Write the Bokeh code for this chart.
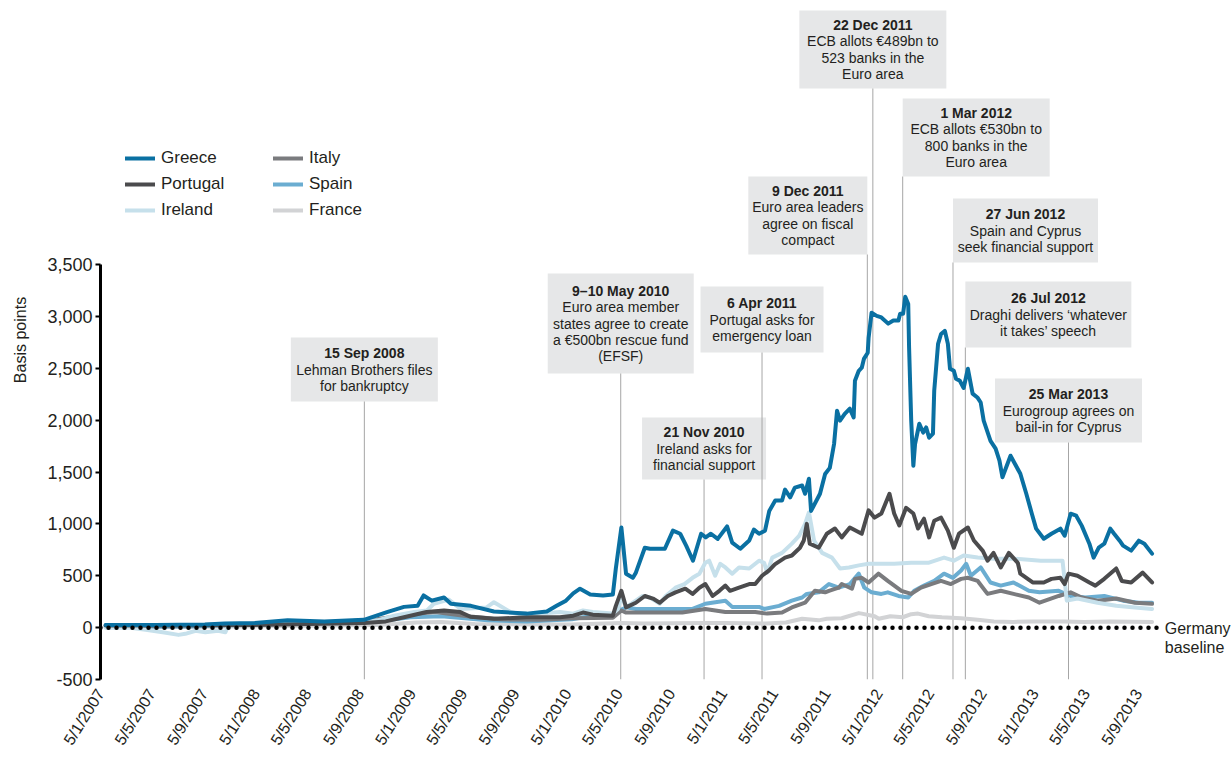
import math
import pandas as pd
from bokeh.plotting import figure
from bokeh.models import Range1d, FixedTicker, NumeralTickFormatter, Legend, LegendItem
from bokeh.core.properties import value
from bokeh.embed import file_html
from bokeh.resources import INLINE

# ---------------- data ----------------
greece_dates = [
    "2007-01-17", "2007-05-13", "2007-09-07", "2007-10-23", "2008-01-02", "2008-03-19", "2008-06-13", "2008-09-14", "2008-11-07", "2008-12-17",
    "2009-01-18", "2009-02-01", "2009-02-20", "2009-03-21", "2009-04-06", "2009-05-23", "2009-07-16", "2009-10-01", "2009-11-17", "2009-12-10",
    "2010-01-01", "2010-01-18", "2010-02-03", "2010-02-27", "2010-03-29", "2010-04-21", "2010-04-28", "2010-05-11", "2010-05-22", "2010-06-07",
    "2010-06-14", "2010-07-05", "2010-07-17", "2010-08-21", "2010-09-09", "2010-09-26", "2010-10-10", "2010-10-26", "2010-11-14", "2010-11-25",
    "2010-12-07", "2010-12-23", "2011-01-14", "2011-01-26", "2011-02-14", "2011-03-07", "2011-03-18", "2011-03-30", "2011-04-13", "2011-04-23",
    "2011-04-30", "2011-05-07", "2011-05-23", "2011-05-30", "2011-06-11", "2011-06-22", "2011-07-09", "2011-07-16", "2011-07-25", "2011-07-30",
    "2011-08-20", "2011-09-01", "2011-09-12", "2011-09-22", "2011-09-29", "2011-10-06", "2011-10-17", "2011-10-29", "2011-11-07", "2011-11-10",
    "2011-11-19", "2011-11-26", "2011-12-01", "2011-12-10", "2011-12-12", "2011-12-19", "2011-12-31", "2012-01-11", "2012-01-27", "2012-02-08",
    "2012-02-20", "2012-02-24", "2012-03-02", "2012-03-07", "2012-03-14", "2012-03-16", "2012-03-21", "2012-03-26", "2012-03-30", "2012-04-09",
    "2012-04-18", "2012-04-25", "2012-05-02", "2012-05-11", "2012-05-14", "2012-05-23", "2012-05-30", "2012-06-08", "2012-06-15", "2012-06-20",
    "2012-06-29", "2012-07-04", "2012-07-13", "2012-07-22", "2012-08-01", "2012-08-12", "2012-08-24", "2012-08-31", "2012-09-07", "2012-09-23",
    "2012-10-05", "2012-10-14", "2012-10-21", "2012-11-09", "2012-12-02", "2012-12-16", "2012-12-29", "2013-01-08", "2013-01-26", "2013-02-13",
    "2013-03-06", "2013-03-16", "2013-03-30", "2013-04-12", "2013-04-25", "2013-05-13", "2013-05-23", "2013-06-04", "2013-06-17", "2013-07-01",
    "2013-07-10", "2013-07-23", "2013-07-31", "2013-08-19", "2013-09-06", "2013-09-19", "2013-10-07"]
greece_values = [
    25, 25, 30, 40, 45, 70, 60, 75, 150, 200,
    210, 310, 260, 290, 230, 210, 155, 135, 155, 210,
    260, 330, 375, 320, 310, 320, 570, 965, 520, 480,
    530, 770, 760, 760, 935, 905, 790, 645, 905, 870,
    905, 855, 975, 820, 760, 840, 945, 905, 935, 1125,
    1175, 1225, 1225, 1330, 1255, 1350, 1370, 1290, 1435, 1125,
    1290, 1480, 1540, 1770, 2090, 1995, 2060, 2110, 2025, 2380,
    2475, 2505, 2590, 2650, 2795, 3035, 3005, 2990, 2930, 2960,
    2960, 3025, 3025, 3190, 3120, 2700, 1995, 1560, 1770, 1965,
    1880, 1930, 1830, 1870, 2285, 2735, 2830, 2860, 2735, 2495,
    2475, 2400, 2380, 2310, 2495, 2255, 2215, 2170, 1995, 1800,
    1725, 1610, 1450, 1657, 1483, 1290, 1098, 954, 857, 905,
    954, 886, 1098, 1079, 983, 809, 674, 771, 809, 954,
    905, 838, 790, 742, 838, 809, 713]

portugal_dates = [
    "2007-01-17", "2007-09-01", "2008-01-01", "2008-09-15", "2008-11-04", "2008-12-17", "2009-02-08", "2009-03-21", "2009-04-28", "2009-05-22",
    "2009-07-16", "2009-10-01", "2009-12-18", "2010-01-18", "2010-02-10", "2010-03-05", "2010-04-21", "2010-04-28", "2010-05-11", "2010-05-22",
    "2010-06-14", "2010-07-05", "2010-07-24", "2010-08-09", "2010-08-28", "2010-09-15", "2010-10-08", "2010-10-25", "2010-11-10", "2010-11-24",
    "2010-12-11", "2010-12-27", "2011-01-10", "2011-01-21", "2011-02-11", "2011-03-07", "2011-03-21", "2011-04-06", "2011-04-22", "2011-05-06",
    "2011-05-30", "2011-06-15", "2011-07-04", "2011-07-13", "2011-07-20", "2011-07-27", "2011-08-17", "2011-09-05", "2011-09-24", "2011-10-10",
    "2011-10-29", "2011-11-26", "2011-12-12", "2011-12-26", "2012-01-11", "2012-01-30", "2012-02-10", "2012-02-22", "2012-03-09", "2012-03-26",
    "2012-04-06", "2012-04-20", "2012-05-02", "2012-05-14", "2012-05-30", "2012-06-15", "2012-06-29", "2012-07-11", "2012-08-01", "2012-08-15",
    "2012-09-05", "2012-09-16", "2012-09-30", "2012-10-17", "2012-11-05", "2012-11-26", "2012-12-02", "2012-12-31", "2013-01-26", "2013-02-13",
    "2013-03-06", "2013-03-16", "2013-03-25", "2013-04-15", "2013-05-13", "2013-05-27", "2013-06-17", "2013-07-15", "2013-07-28", "2013-08-19",
    "2013-09-15", "2013-10-07"]
portugal_values = [
    20, 22, 25, 45, 60, 100, 150, 165, 150, 105,
    85, 100, 100, 115, 145, 125, 115, 210, 355, 195,
    240, 305, 280, 240, 305, 340, 375, 325, 385, 420,
    305, 355, 405, 355, 385, 420, 420, 500, 550, 610,
    675, 695, 770, 840, 1000, 810, 770, 905, 955, 870,
    965, 905, 1130, 1060, 1100, 1290, 1100, 985, 1155, 1100,
    955, 1050, 870, 1030, 1060, 935, 770, 905, 965, 840,
    740, 645, 720, 580, 720, 625, 520, 435, 435, 470,
    480, 420, 520, 500, 435, 405, 470, 570, 450, 435,
    530, 435]

ireland_dates = [
    "2007-01-17", "2007-03-12", "2007-04-21", "2007-05-31", "2007-07-07", "2007-07-23", "2007-08-16", "2007-09-08", "2007-10-08", "2007-10-25",
    "2007-11-01", "2008-01-19", "2008-04-05", "2008-09-08", "2008-10-16", "2008-11-24", "2009-01-10", "2009-02-09", "2009-02-25", "2009-04-01",
    "2009-04-29", "2009-06-29", "2009-07-16", "2009-08-24", "2009-10-01", "2009-11-02", "2009-12-18", "2010-01-18", "2010-02-10", "2010-03-05",
    "2010-04-21", "2010-05-03", "2010-05-11", "2010-05-22", "2010-06-07", "2010-06-30", "2010-07-17", "2010-08-09", "2010-08-23", "2010-09-15",
    "2010-10-06", "2010-10-25", "2010-11-10", "2010-11-24", "2010-12-03", "2010-12-17", "2010-12-29", "2011-01-10", "2011-01-26", "2011-02-11",
    "2011-03-07", "2011-03-30", "2011-04-11", "2011-04-18", "2011-04-30", "2011-05-23", "2011-06-15", "2011-07-02", "2011-07-16", "2011-07-25",
    "2011-08-06", "2011-08-25", "2011-09-17", "2011-10-06", "2011-10-27", "2011-11-19", "2011-12-12", "2012-02-10", "2012-03-21", "2012-04-30",
    "2012-06-06", "2012-06-29", "2012-07-22", "2012-08-24", "2012-09-30", "2012-11-16", "2013-01-19", "2013-03-11", "2013-03-21", "2013-04-15",
    "2013-06-01", "2013-07-15", "2013-08-28", "2013-10-07"]
ireland_values = [
    0, 0, -20, -45, -70, -60, -30, -45, -30, -45,
    20, 40, 50, 60, 70, 115, 150, 165, 230, 270,
    180, 195, 245, 150, 115, 135, 150, 135, 165, 150,
    135, 180, 305, 195, 240, 305, 290, 230, 305, 385,
    420, 480, 520, 625, 645, 500, 615, 580, 520, 580,
    570, 645, 625, 530, 675, 720, 810, 885, 1000, 1110,
    840, 720, 675, 570, 580, 600, 615, 615, 625, 625,
    675, 645, 695, 675, 665, 665, 645, 645, 260, 280,
    240, 210, 195, 180]

italy_dates = [
    "2007-01-17", "2007-07-01", "2007-11-01", "2008-03-15", "2008-07-01", "2008-10-15", "2009-01-01", "2009-03-01", "2009-05-15", "2009-08-01",
    "2009-11-01", "2010-01-15", "2010-04-21", "2010-05-11", "2010-05-22", "2010-07-15", "2010-10-01", "2010-11-24", "2011-01-10", "2011-03-21",
    "2011-04-18", "2011-05-23", "2011-06-15", "2011-07-16", "2011-08-08", "2011-09-01", "2011-09-10", "2011-10-03", "2011-10-10", "2011-11-03",
    "2011-11-10", "2011-11-26", "2011-12-12", "2012-01-04", "2012-01-26", "2012-02-27", "2012-03-21", "2012-04-13", "2012-05-07", "2012-05-30",
    "2012-06-22", "2012-07-16", "2012-08-01", "2012-08-24", "2012-09-16", "2012-10-17", "2012-11-16", "2012-12-22", "2013-01-16", "2013-03-02",
    "2013-03-30", "2013-04-25", "2013-06-01", "2013-07-15", "2013-08-28", "2013-10-07"]
italy_values = [
    20, 20, 30, 45, 50, 80, 130, 150, 110, 80,
    75, 90, 95, 165, 145, 145, 145, 180, 150, 150,
    135, 145, 195, 240, 355, 340, 355, 385, 420, 375,
    470, 480, 435, 520, 450, 355, 325, 385, 420, 450,
    420, 470, 480, 450, 325, 355, 325, 290, 240, 305,
    340, 290, 260, 280, 240, 230]

spain_dates = [
    "2007-01-17", "2007-08-01", "2008-01-01", "2008-06-01", "2008-10-15", "2009-01-01", "2009-03-15", "2009-07-01", "2009-10-01", "2010-01-15",
    "2010-02-10", "2010-04-21", "2010-05-22", "2010-06-14", "2010-09-01", "2010-10-25", "2010-11-24", "2011-01-10", "2011-01-26", "2011-03-30",
    "2011-04-11", "2011-05-16", "2011-06-15", "2011-07-09", "2011-07-20", "2011-08-17", "2011-09-10", "2011-10-03", "2011-10-29", "2011-11-19",
    "2011-12-02", "2011-12-19", "2012-01-11", "2012-01-26", "2012-02-20", "2012-03-14", "2012-03-28", "2012-04-20", "2012-05-14", "2012-06-06",
    "2012-06-27", "2012-07-16", "2012-07-28", "2012-08-08", "2012-08-31", "2012-09-23", "2012-10-17", "2012-11-16", "2012-12-22", "2013-01-16",
    "2013-03-02", "2013-03-30", "2013-05-04", "2013-06-17", "2013-07-31", "2013-09-06", "2013-10-07"]
spain_values = [
    5, 10, 30, 45, 60, 100, 110, 70, 60, 80,
    100, 130, 195, 180, 180, 180, 230, 260, 200, 200,
    180, 210, 260, 290, 325, 340, 420, 385, 420, 520,
    385, 340, 325, 340, 305, 290, 355, 405, 450, 520,
    480, 550, 615, 500, 580, 435, 405, 435, 355, 340,
    355, 305, 290, 305, 260, 240, 240]

france_dates = [
    "2007-01-17", "2007-09-01", "2008-03-01", "2008-10-15", "2009-01-15", "2009-03-15", "2009-06-01", "2009-10-01", "2010-01-15", "2010-05-11",
    "2010-07-01", "2010-11-24", "2011-01-10", "2011-04-15", "2011-06-01", "2011-07-09", "2011-08-17", "2011-09-05", "2011-10-10", "2011-11-19",
    "2011-11-26", "2011-12-26", "2012-01-05", "2012-02-01", "2012-03-01", "2012-03-21", "2012-04-06", "2012-05-01", "2012-06-01", "2012-07-16",
    "2012-08-24", "2012-10-01", "2012-11-16", "2013-01-01", "2013-03-15", "2013-05-01", "2013-07-01", "2013-10-07"]
france_values = [
    5, 8, 15, 25, 50, 55, 35, 30, 30, 45,
    40, 45, 45, 40, 50, 85, 70, 85, 90, 140,
    135, 110, 85, 110, 100, 130, 135, 110, 100, 90,
    75, 60, 55, 60, 60, 55, 60, 55]

germany_dates = ["2007-01-05", "2013-10-18"]
germany_values = [0, 0]

y_ticks = [-500, 0, 500, 1000, 1500, 2000, 2500, 3000, 3500]
x_tick_labels = ["5/1/2007", "5/5/2007", "5/9/2007", "5/1/2008", "5/5/2008", "5/9/2008",
                 "5/1/2009", "5/5/2009", "5/9/2009", "5/1/2010", "5/5/2010", "5/9/2010",
                 "5/1/2011", "5/5/2011", "5/9/2011", "5/1/2012", "5/5/2012", "5/9/2012",
                 "5/1/2013", "5/5/2013", "5/9/2013"]

event_dates = ["2008-09-15", "2010-05-09 12:00", "2010-11-21", "2011-04-06", "2011-12-09",
               "2011-12-22", "2012-03-01", "2012-06-27", "2012-07-26", "2013-03-25"]
event_titles = ["15 Sep 2008", "9\u201310 May 2010", "21 Nov 2010", "6 Apr 2011", "9 Dec 2011",
                "22 Dec 2011", "1 Mar 2012", "27 Jun 2012", "26 Jul 2012", "25 Mar 2013"]
event_texts = [
    ["Lehman Brothers files", "for bankruptcy"],
    ["Euro area member", "states agree to create", "a \u20ac500bn rescue fund", "(EFSF)"],
    ["Ireland asks for", "financial support"],
    ["Portugal asks for", "emergency loan"],
    ["Euro area leaders", "agree on fiscal", "compact"],
    ["ECB allots \u20ac489bn to", "523 banks in the", "Euro area"],
    ["ECB allots \u20ac530bn to", "800 banks in the", "Euro area"],
    ["Spain and Cyprus", "seek financial support"],
    ["Draghi delivers \u2018whatever", "it takes\u2019 speech"],
    ["Eurogroup agrees on", "bail-in for Cyprus"],
]

# ---------------- layout / style ----------------
FONT = "Liberation Sans"
TEXT_COL = "#231f20"
W, H = 1232, 762
B_LEFT, B_BOTTOM = 100, 83
FRAME_W, FRAME_H = W - B_LEFT, H - B_BOTTOM
X0 = pd.Timestamp("2007-01-05")
DAYS_PER_PX = 2271.0 / 968.0
X1 = X0 + pd.Timedelta(days=FRAME_W * DAYS_PER_PX)
Y0 = -500.0
PX_PER_UNIT = 51.875 / 500.0
Y1 = Y0 + FRAME_H / PX_PER_UNIT


def y_at(px):  # px measured from figure top
    return Y1 - px / PX_PER_UNIT


def shift(ts, dpx):
    return ts + pd.Timedelta(days=dpx * DAYS_PER_PX)


# anchor, box width, box top, box height (px)
BOX_LAYOUT = [("c", 147, 337, 64), ("c", 146, 273, 100), ("c", 124, 417, 62), ("c", 123, 286, 66),
              ("r", 119, 176, 78), ("c", 147, 10, 78), ("l", 147, 98, 78), ("l", 145, 198, 64),
              ("l", 166, 281, 66), ("c", 147, 378, 64)]
LINE_PITCH = 16.3

p = figure(width=W, height=H, x_axis_type="datetime", output_backend="svg", toolbar_location=None,
           x_range=Range1d(X0.to_pydatetime(), X1.to_pydatetime()), y_range=Range1d(Y0, Y1),
           min_border_left=B_LEFT, min_border_right=0, min_border_top=0, min_border_bottom=B_BOTTOM)
p.outline_line_color = None
p.xgrid.visible = False
p.ygrid.visible = False
p.background_fill_color = "white"

# annotation boxes
bl, br, bt, bb, line_x, title_x, title_y, body_x, body_y, body_t = [], [], [], [], [], [], [], [], [], []
for d, title, lines, (anchor, bw, top, h) in zip(event_dates, event_titles, event_texts, BOX_LAYOUT):
    t = pd.Timestamp(d)
    if anchor == "c":
        left, right = shift(t, -bw / 2), shift(t, bw / 2)
    elif anchor == "l":
        left, right = t, shift(t, bw)
    else:
        left, right = shift(t, -bw), t
    bl.append(left); br.append(right)
    bt.append(y_at(top)); bb.append(y_at(top + h))
    cx = left + (right - left) / 2
    n = len(lines)
    first = top + h / 2 - n * LINE_PITCH / 2
    title_x.append(cx); title_y.append(y_at(first))
    for i, ln in enumerate(lines):
        body_x.append(cx); body_y.append(y_at(first + LINE_PITCH * (i + 1))); body_t.append(ln)
    line_x.append(t)

p.quad(left=bl, right=br, top=bt, bottom=bb, fill_color="#e6e7e8", line_color=None)
p.segment(x0=line_x, y0=bb, x1=line_x, y1=[Y0] * len(line_x), line_color="#a6a6a6", line_width=1)
p.text(x=title_x, y=title_y, text=event_titles, text_align="center", text_baseline="middle",
       text_font=value(FONT), text_font_size="14px", text_font_style="bold", text_color=TEXT_COL)
p.text(x=body_x, y=body_y, text=body_t, text_align="center", text_baseline="middle",
       text_font=value(FONT), text_font_size="14px", text_color=TEXT_COL)

# series
series = [
    ("France", france_dates, france_values, "#d2d3d5"),
    ("Spain", spain_dates, spain_values, "#6badd1"),
    ("Italy", italy_dates, italy_values, "#7a7b7e"),
    ("Ireland", ireland_dates, ireland_values, "#c6e0eb"),
    ("Portugal", portugal_dates, portugal_values, "#4b4b4d"),
    ("Greece", greece_dates, greece_values, "#0a70a2"),
]
rend = {}
for name, ds, vs, col in series:
    rend[name] = p.line(x=pd.to_datetime(ds), y=vs, line_color=col, line_width=4,
                        line_join="round", line_cap="round")

gd = pd.to_datetime(germany_dates)
p.line(x=gd, y=germany_values, line_color="black", line_width=4.5, line_dash="0 8", line_cap="round")
p.text(x=[gd[-1]], y=[germany_values[-1]], text=["Germany\nbaseline"], x_offset=8, y_offset=-8,
       text_align="left", text_baseline="top", text_font=value(FONT), text_font_size="16px",
       text_color=TEXT_COL, text_line_height=1.15)


# legends
def make_legend(names, vx):
    lg = Legend(items=[LegendItem(label=n, renderers=[rend[n]]) for n in names],
                location=(vx, FRAME_H - 220), orientation="vertical",
                border_line_color=None, background_fill_alpha=0, padding=0, margin=0,
                spacing=6, glyph_width=30, glyph_height=20, label_height=20, label_standoff=6,
                label_text_font=FONT, label_text_font_size="17px", label_text_color=TEXT_COL)
    p.add_layout(lg)


make_legend(["Greece", "Portugal", "Ireland"], 25)
make_legend(["Italy", "Spain", "France"], 173)

# y axis
ya = p.yaxis[0]
ya.bounds = (y_ticks[0], y_ticks[-1])
ya.ticker = FixedTicker(ticks=y_ticks, minor_ticks=[])
ya.formatter = NumeralTickFormatter(format="0,0")
ya.axis_line_width = 3
ya.axis_line_color = "black"
ya.major_tick_line_color = "black"
ya.major_tick_line_width = 2
ya.major_tick_out = 5
ya.major_tick_in = 0
ya.minor_tick_line_color = None
ya.major_label_standoff = 3
ya.major_label_text_font = FONT
ya.major_label_text_font_size = "18px"
ya.major_label_text_color = TEXT_COL
ya.axis_label = "Basis points"
ya.axis_label_text_font = FONT
ya.axis_label_text_font_size = "16px"
ya.axis_label_text_font_style = "normal"
ya.axis_label_text_color = TEXT_COL
ya.axis_label_standoff = 15

# x axis
tick_ts = pd.to_datetime(x_tick_labels, format="%d/%m/%Y")
tick_ms = [int(t.value // 10**6) for t in tick_ts]
xa = p.xaxis[0]
xa.ticker = FixedTicker(ticks=tick_ms, minor_ticks=[])
xa.major_label_overrides = {ms: lab for ms, lab in zip(tick_ms, x_tick_labels)}
xa.major_label_orientation = math.radians(58)
xa.axis_line_color = None
xa.major_tick_line_color = None
xa.minor_tick_line_color = None
xa.major_label_standoff = 5
xa.major_label_text_font = FONT
xa.major_label_text_font_size = "16px"
xa.major_label_text_color = TEXT_COL

open("out.html", "w").write(file_html(p, INLINE))
